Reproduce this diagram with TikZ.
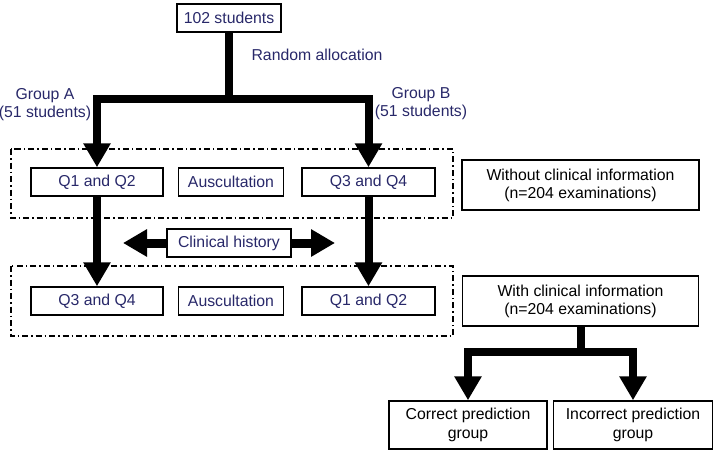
\documentclass[tikz,border=0pt]{standalone}
\usepackage{fontspec}
\setmainfont{Liberation Sans}
\usetikzlibrary{arrows.meta}
\definecolor{navy}{RGB}{40,40,105}
\begin{document}
\begin{tikzpicture}[x=1pt,y=-1pt,
        txt/.style={font=\fontsize{15.8}{18}\selectfont},
        box/.style={txt,draw,line width=1.5pt,minimum height=28pt,inner sep=0pt,text=navy},
        infobox/.style={box,text=black,align=center,minimum height=50pt},
        lbl/.style={txt,text=navy,align=center},
        fat/.style={line width=8pt},
        fatarrow/.style={fat,-{Triangle[length=24pt,width=26pt]}},
        dashdot/.style={line width=1.5pt,dash pattern=on 6pt off 3pt on 1.5pt off 3pt}]
                \useasboundingbox (0,0) rectangle (715,455);

                \node[box,minimum width=104pt] (students) at(229,18) {102 students};
                \node[lbl] (alloc) at(317,55) {Random allocation};
                \node[lbl] (groupa) at(45,105) {Group A\\(51 students)};
                \node[lbl] (groupb) at(421,104) {Group B\\(51 students)};

                \draw[dashdot] (11,149) rectangle (453,218);
                \draw[dashdot] (11,266) rectangle (453,336);

                \node[box,minimum width=132pt] (qa) at(97,182) {Q1 and Q2};
                \node[box,minimum width=105pt] (ausa) at(231,182) {Auscultation};
                \node[box,minimum width=133pt] (qb) at(368.5,182) {Q3 and Q4};

                \node[box,minimum width=124pt] (history) at(229,243) {Clinical history};

                \node[box,minimum width=132pt] (qc) at(97,301) {Q3 and Q4};
                \node[box,minimum width=105pt] (ausb) at(231,301) {Auscultation};
                \node[box,minimum width=133pt] (qd) at(368.5,301) {Q1 and Q2};

                \node[infobox,minimum width=237pt] (without) at(580.5,185) {Without clinical information\\(n=204 examinations)};
                \node[infobox,minimum width=236pt] (with) at(580.5,301) {With clinical information\\(n=204 examinations)};
                \node[infobox,minimum width=158pt,minimum height=48pt,font=\fontsize{15.8}{19}\selectfont] (correct) at(468,425) {Correct prediction\\group};
                \node[infobox,minimum width=159pt,minimum height=48pt,font=\fontsize{15.8}{19}\selectfont] (incorrect) at(633,425) {Incorrect prediction\\group};

                \coordinate (split) at(229,99);
                \draw[fat] (students.south) -- (split);
                \draw[fatarrow] (split) -| (qa.north);
                \draw[fatarrow] (split) -| (qb.north);

                \draw[fatarrow] (qa.south) -- (qc.north);
                \draw[fatarrow] (qb.south) -- (qd.north);

                \coordinate (histl) at(123,243);
                \coordinate (histr) at(335,243);
                \draw[fatarrow,line width=9pt] (history.west) -- (histl);
                \draw[fatarrow,line width=9pt] (history.east) -- (histr);

                \coordinate (fork) at(580.5,352);
                \draw[fat] (with.south) -- (fork);
                \draw[fatarrow] (fork) -| (correct.north);
                \draw[fatarrow] (fork) -| (incorrect.north);
            \end{tikzpicture}
\end{document}
